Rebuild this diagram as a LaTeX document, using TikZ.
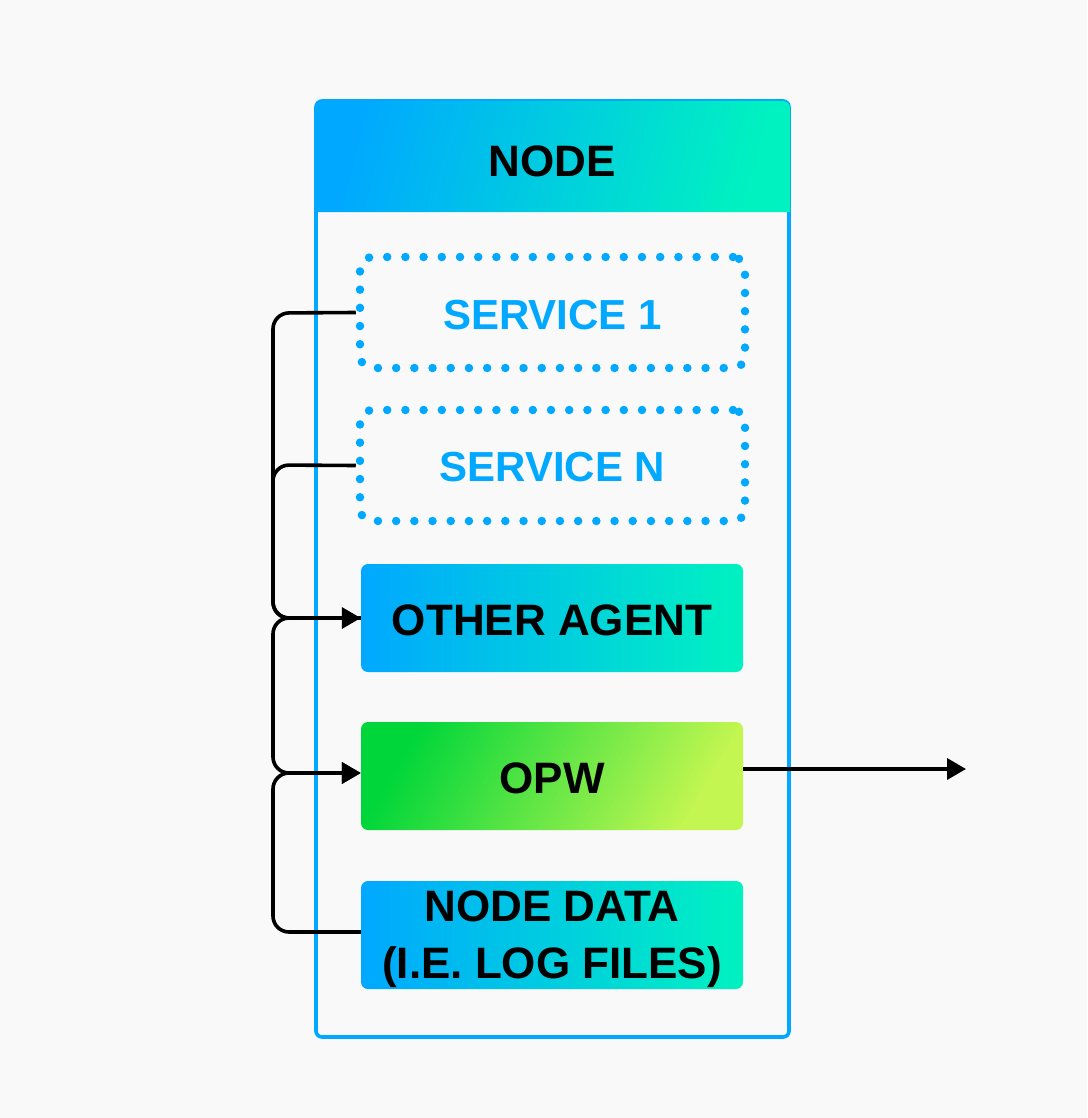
\documentclass[tikz,border=0pt]{standalone}
\usepackage{fontspec}
\setmainfont{Liberation Sans}
\usetikzlibrary{arrows.meta}
\definecolor{bg}{HTML}{F9F9F9}
\definecolor{cblue}{HTML}{00A8FF}
\definecolor{cteal}{HTML}{00F2C0}
\definecolor{cgreenA}{HTML}{00D63A}
\definecolor{cgreenB}{HTML}{C4F651}
\newcommand{\lowr}[2]{\raisebox{-#1}[\height][\depth]{#2}}
\tikzset{
  box/.style={rectangle, rounded corners=7pt, minimum width=382pt, minimum height=108pt, inner sep=0pt,
    font=\fontsize{44}{57}\selectfont\bfseries, align=center},
  bluegrad/.style={box, left color=cblue, right color=cteal},
  greengrad/.style={box, left color=cgreenA, right color=cgreenB, shading angle=60},
  dotbox/.style={rectangle, rounded corners=12pt, minimum width=385pt, minimum height=111pt, inner sep=0pt,
    draw=cblue, line width=8.5pt, line cap=round, dash pattern=on 0pt off 18.2pt, text=cblue,
    font=\fontsize{42}{50}\selectfont\bfseries},
  conn/.style={draw=black, line width=3.6pt, rounded corners=16pt},
  arr/.style={-{Triangle[length=19pt,width=21pt]}},
}
\begin{document}
\begin{tikzpicture}[x=1pt,y=-1pt]
\fill[bg] (0,0) rectangle (1087,1118);
\useasboundingbox (0,0) rectangle (1087,1118);
% container
\node[draw=cblue, line width=3.6pt, rounded corners=6pt, minimum width=473pt, minimum height=936pt, inner sep=0pt] (cont) at (552.5,569) {};
% header
\shade[left color=cblue, right color=cteal, shading angle=75]
  (315,212) [rounded corners=7pt] -- (315,101) -- (790,101) [sharp corners] -- (790,212) -- cycle;
\node[font=\fontsize{44}{52}\selectfont\bfseries] (head) at (552.5,161) {NODE};
% services
\node[dotbox] (s1) at (552.5,312.5) {\lowr{3pt}{SERVICE 1}};
\node[dotbox] (sn) at (552.5,465.5) {\lowr{2pt}{SERVICE N}};
% agents
\node[bluegrad] (oa) at (552,618) {\lowr{2pt}{OTHER AGENT}};
\node[greengrad] (opw) at (552,776) {\lowr{2pt}{OPW}};
\node[bluegrad] (nd) at (552,935) {\lowr{4pt}{NODE DATA}\\\lowr{4pt}{(I.E. LOG FILES)}};
\coordinate (out) at (966,769);
% connectors
\draw[conn, arr] (s1.west) -- (273,313) -- (273,618) -- (oa.west);
\draw[conn] (sn.west) -- (273,465) -- (273,618) -- (oa.west);
\draw[conn, arr] (oa.west) ++(-60,0) -- (273,618) -- (273,773) -- (opw.west |- 0,773);
\draw[conn, arr] (nd.west |- 0,932) -- (273,932) -- (273,773) -- (opw.west |- 0,773);
\draw[conn, arr] (opw.east |- 0,769) -- (out);
\end{tikzpicture}
\end{document}
